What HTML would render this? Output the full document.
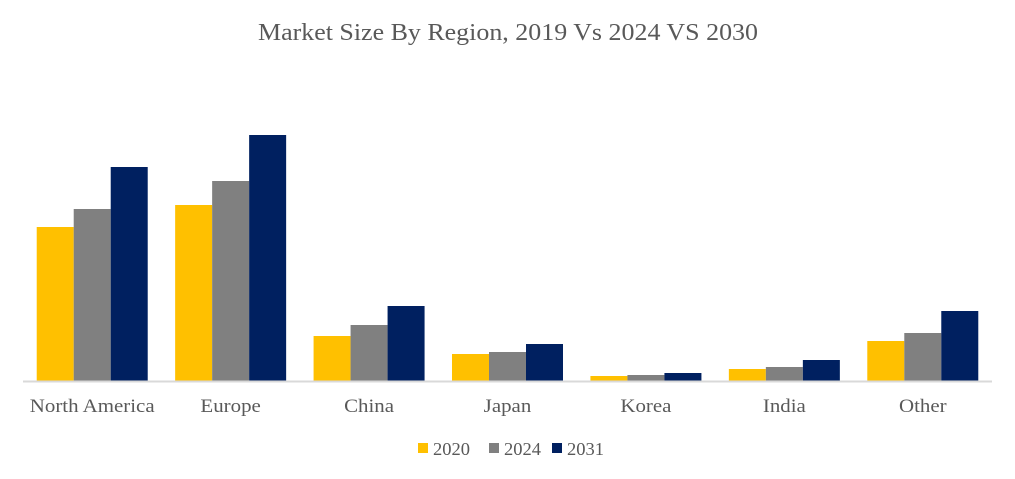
<!DOCTYPE html>
<html><head><meta charset="utf-8"><style>
body{margin:0;background:#fff;font-family:"Liberation Serif",serif;}
svg{display:block}
</style></head><body>
<svg width="1015" height="479">
<text x="508" y="40" text-anchor="middle" font-size="24" fill="#595959" textLength="500" lengthAdjust="spacingAndGlyphs">Market Size By Region, 2019 Vs 2024 VS 2030</text>
<g id="bars"></g>
<line x1="23" y1="381.5" x2="992" y2="381.5" stroke="#d9d9d9" stroke-width="2"/>
<g id="labels"></g>
<g id="legend"></g>
</svg>
<script>
const categories=["North America","Europe","China","Japan","Korea","India","Other"];
const seriesNames=["2020","2024","2031"];
const s2020=[154,176,45,27,5,12,40];
const s2024=[172,200,56,29,6,14,48];
const s2031=[214,246,75,37,8,21,70];
const colors=["#FFC000","#808080","#002060"];
const series=[s2020,s2024,s2031];
const NS="http://www.w3.org/2000/svg";
const left=23,right=992,base=381,step=(right-left)/categories.length,bw=37;
const x=i=>left+step*(i+0.5);
const y=v=>base-v;
const bars=document.getElementById('bars'),labels=document.getElementById('labels'),legend=document.getElementById('legend');
function widen(t,f){const w=t.getComputedTextLength();t.setAttribute('textLength',w*f);t.setAttribute('lengthAdjust','spacingAndGlyphs');}
categories.forEach((c,i)=>{
 series.forEach((s,j)=>{
  const r=document.createElementNS(NS,'rect');
  r.setAttribute('x',x(i)-1.5*bw+j*bw);r.setAttribute('y',y(s[i]));
  r.setAttribute('width',bw);r.setAttribute('height',base-y(s[i]));
  r.setAttribute('fill',colors[j]);
  
  
  bars.appendChild(r);
 });
 const t=document.createElementNS(NS,'text');
 t.setAttribute('x',x(i));t.setAttribute('y',412);t.setAttribute('text-anchor','middle');
 t.setAttribute('font-size','18.5');t.setAttribute('fill','#595959');t.textContent=c;
 
 
 labels.appendChild(t);
 widen(t,1.13);
});
const lx=[418,489,552];
seriesNames.forEach((n,j)=>{
 const g=document.createElementNS(NS,'g');
 
 
 const r=document.createElementNS(NS,'rect');
 r.setAttribute('x',lx[j]);r.setAttribute('y',443);r.setAttribute('width',10);r.setAttribute('height',10);r.setAttribute('fill',colors[j]);
 const t=document.createElementNS(NS,'text');
 t.setAttribute('x',lx[j]+15);t.setAttribute('y',455);t.setAttribute('font-size','17.5');t.setAttribute('fill','#595959');t.textContent=n;
 g.appendChild(r);g.appendChild(t);legend.appendChild(g);
 t.setAttribute('textLength',37);t.setAttribute('lengthAdjust','spacingAndGlyphs');
});
</script>
</body></html>
